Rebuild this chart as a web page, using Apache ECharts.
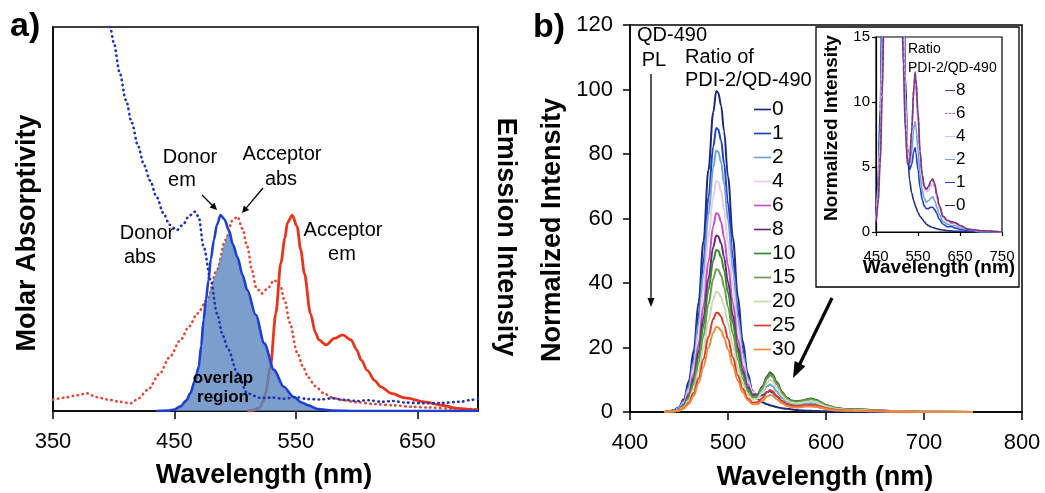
<!DOCTYPE html>
<html><head><meta charset="utf-8">
<script src="https://cdn.jsdelivr.net/npm/echarts@6/dist/echarts.min.js"></script>
<style>html,body{margin:0;padding:0;background:#fff}#c{width:1045px;height:493px}</style>
</head><body><div id="c"></div>
<script>
// ---------- Panel a data ----------
const aTicks = [350, 450, 550, 650];
const donorAbsX = [395,397,400,405,410,415,420,425,430,435,441,446,452,457,462,467,470,474,480,485,490,494,502,510,521,530,540,550,560,570,580,590,600,610,620,630,640,655,670,685,695,700];
const donorAbsY = [104,100,96,88,81,75,69,64,60,56,51.5,48.5,47.1,48.5,50.8,51.9,50.5,42.8,34,25.4,19.5,16.2,9.8,4.6,3.4,3.5,3.2,3.6,3.1,3.0,3.3,2.9,2.6,2.8,2.4,2.6,2.2,2.0,2.1,2.4,2.9,3.2];
const accAbsX = [350,360,370,378,386,395,405,414,420,428,438,446,455,462,469,477,485,492,498,502,506,510,514,517,522,527,532,537,541,545,551,556,560,566,573,580,587,600,615,630,645,660,680,700];
const accAbsY = [2.9,3.5,4.1,4.6,3.6,3.0,2.4,2.0,3.2,5.5,9.8,14,18.5,22,25.4,29,36.7,44.5,49.7,50.6,47.5,42.8,36.5,32.4,30.6,32,34.1,32.8,28.5,23,15.3,11.5,8.8,6.5,4.6,3.5,2.9,2.3,1.8,1.5,1.1,0.9,0.6,0.4];
const donorEmX = [435,445,450,455,460,463,467,470,472,474,476,478,480,482.5,485,488,491,495,498,502,506,510,517,524,532,540,548,555,560,568,580,600,650,700];
const donorEmY = [0,0.1,0.4,1.2,2.8,4.6,8,11.5,17,23.7,29,34,39.5,44.5,48.5,51,50,47,43.5,40,35.5,31.5,25,17.6,10.7,6.3,3.7,2.2,1.5,0.5,0.1,0,0,0];
const accEmX = [510,515,520,523,525,529,533.5,537.6,541,543,547,551,554,557,562,566,569,575,581.6,588.6,595.5,600,603.7,609,614.7,620,628.5,640,656,670,683.6,697,700];
const accEmY = [0,0.2,0.8,2.5,4.6,11.5,25.4,38.5,45,49,51,48,42,35.9,25.4,20.5,18.5,17.2,18.9,19.8,18.5,16,13.3,10.5,8,6.3,4.6,3.4,2.4,1.5,0.7,0.3,0.3];
const overlapX = [450,455,460,463,467,470,472,474,476,478,480,482.5,485,488,491,493,495,498,502,506,510,517,524,532,540,548,555,560,568,580];
const overlapY = [0.4,1.2,2.8,4.6,8,11.5,17,23.7,27.5,29.9,31.9,34.5,36.7,39.9,43.4,45.3,47,43.5,40,35.5,31.5,25,17.6,10.7,6.3,3.7,2.2,1.5,0.5,0.1];

// ---------- Panel b data ----------
const bTicksX = [400, 500, 600, 700, 800];
const bTicksY = [0, 20, 40, 60, 80, 100, 120];
const bWave = [435,440,445,450,455,460,465,470,475,480,485,488,490,493,496,500,505,510,515,520,525,530,535,540,543,545,550,555,560,565,570,575,580,585,590,595,600,610,620,630,640,650,670,700,750];
const bRatios = ['0','1','2','4','6','8','10','15','20','25','30'];
const b0  = [0,0.2,0.6,1.5,4, 9.5,19,34,53,75, 93,99.5,99,95,87, 73,54,36,22,12, 6.5,4.0,3.0,2.4,2.1, 1.9,1.5,1.2,1.0,0.8, 0.6,0.5,0.4,0.35,0.3, 0.25,0.2,0.15,0.1,0.08, 0.06,0.05,0.02,0,0];
const b1  = [0,0.2,0.5,1.3,3.5, 8.4,16.8,30.1,46.9,66.4, 82.3,88.1,87.6,84.1,77.0, 64.6,47.9,32.0,19.8,11.1, 6.4,4.8,5.2,6.2,6.5, 6.1,4.8,3.4,2.5,2.0, 1.8,1.8,1.9,1.9,1.7, 1.4,1.0,0.6,0.4,0.4, 0.3,0.2,0.1,0,0];
const b2  = [0,0.2,0.5,1.2,3.3, 7.7,15.5,27.7,43.2,61.1, 75.8,81.1,80.7,77.4,70.9, 59.6,44.1,29.5,18.3,10.5, 6.3,5.2,6.2,7.9,8.5, 8.1,6.3,4.4,3.2,2.6, 2.3,2.4,2.6,2.7,2.4, 1.9,1.4,0.8,0.6,0.5, 0.5,0.3,0.2,0,0];
const b4  = [0,0.1,0.4,1.1,2.9, 6.8,13.7,24.5,38.2,54.0, 67.0,71.6,71.3,68.4,62.7, 52.7,39.1,26.2,16.4,9.6, 6.2,5.6,7.6,10.4,11.3, 10.9,8.4,5.8,4.2,3.3, 3.1,3.2,3.5,3.7,3.4, 2.6,1.9,1.1,0.8,0.7, 0.6,0.4,0.2,0.1,0];
const b6  = [0,0.1,0.4,0.9,2.5, 5.9,11.8,21.1,32.9,46.5, 57.7,61.7,61.4,58.9,54.0, 45.4,33.7,22.6,14.3,8.5, 5.6,5.5,7.8,10.9,12.0, 11.6,9.0,6.1,4.4,3.5, 3.3,3.4,3.8,4.0,3.6, 2.8,2.1,1.2,0.9,0.7, 0.7,0.5,0.2,0.1,0];
const b8  = [0,0.1,0.3,0.8,2.2, 5.2,10.5,18.7,29.2,41.3, 51.2,54.7,54.5,52.3,47.9, 40.3,29.9,20.1,12.8,7.7, 5.2,5.3,7.8,11.1,12.3, 11.8,9.2,6.2,4.4,3.5, 3.3,3.5,3.9,4.1,3.7, 2.9,2.1,1.2,0.9,0.8, 0.7,0.5,0.2,0.1,0];
const b10 = [0,0.1,0.3,0.8,2.0, 4.8,9.6,17.2,26.8,37.9, 47.0,50.2,50.0,48.0,44.0, 37.0,27.5,18.5,11.8,7.2, 4.9,5.1,7.6,10.9,12.1, 11.6,9.0,6.1,4.4,3.5, 3.3,3.5,3.9,4.2,3.8, 3.0,2.2,1.3,0.9,0.8, 0.7,0.5,0.2,0.1,0];
const b15 = [0,0.1,0.3,0.7,1.8, 4.2,8.5,15.1,23.6,33.4, 41.4,44.3,44.1,42.3,38.8, 32.6,24.2,16.3,10.4,6.4, 4.5,4.8,7.2,10.4,11.5, 11.1,8.6,5.8,4.2,3.3, 3.1,3.3,3.7,3.9,3.5, 2.8,2.0,1.1,0.8,0.7, 0.7,0.4,0.2,0.1,0];
const b20 = [0,0.1,0.2,0.6,1.5, 3.6,7.1,12.8,19.9,28.1, 34.9,37.3,37.1,35.6,32.7, 27.5,20.5,13.8,8.8,5.4, 3.8,4.1,6.2,9.0,10.0, 9.6,7.5,5.1,3.6,2.9, 2.7,2.9,3.2,3.4,3.1, 2.4,1.7,1.0,0.7,0.6, 0.6,0.4,0.2,0.1,0];
const b25 = [0,0.1,0.2,0.5,1.2, 2.9,5.9,10.5,16.4,23.3, 28.8,30.8,30.7,29.5,27.0, 22.7,16.9,11.4,7.2,4.3, 2.9,3.0,4.3,6.1,6.8, 6.5,5.0,3.4,2.4,2.0, 1.8,1.9,2.1,2.2,2.0, 1.6,1.2,0.7,0.5,0.4, 0.4,0.3,0.1,0,0];
const b30 = [0,0.1,0.2,0.4,1.1, 2.5,5.0,9.0,14.0,19.9, 24.6,26.4,26.2,25.2,23.1, 19.4,14.4,9.7,6.1,3.7, 2.4,2.4,3.4,4.8,5.3, 5.1,3.9,2.7,1.9,1.5, 1.4,1.5,1.7,1.7,1.6, 1.3,0.9,0.5,0.4,0.3, 0.3,0.2,0.1,0,0];
const insetRatios = ['8','6','4','2','1','0'];
const insetTicksX = [450, 550, 650, 750];
const insetTicksY = [0, 5, 10, 15];

// ---------- styling ----------
const FONT = '"Liberation Sans", Arial, Helvetica, sans-serif';
const bValues = {'0':b0,'1':b1,'2':b2,'4':b4,'6':b6,'8':b8,'10':b10,'15':b15,'20':b20,'25':b25,'30':b30};
const bColors = {'0':'#1f2a7c','1':'#1f40c8','2':'#6fa3d6','4':'#ebc8ee','6':'#c253c8','8':'#6b2a72',
  '10':'#2e8b2e','15':'#6f9a4f','20':'#c5dcb1','25':'#e0382a','30':'#f08a3c'};
const insetColors = {'8':'#7a3a80','6':'#b455bb','4':'#e6bde9','2':'#6fa3d6','1':'#1f40c8','0':'#252f80'};
const SOLID_ICON = 'path://M0,0H10V1H0Z';
const DASH_ICON = 'path://M0,0H3V1H0ZM4.5,0H7.5V1H4.5ZM9,0H12V1H9Z';

const pairs = (xs, ys) => xs.map((x, i) => [x, ys[i]]);

function txt(x, y, s, size, o) {
  o = o || {};
  const al = o.align || 'center';
  return { type: 'text', x: x, y: y, rotation: o.rot || 0, z: 100,
    style: { text: s, font: (o.bold ? 'bold ' : '') + size + 'px ' + FONT, fill: '#000',
      align: al, verticalAlign: 'middle', textAlign: al, textVerticalAlign: 'middle' } };
}
function arrow(x1, y1, x2, y2, w, hl, hw) {
  const dx = x2 - x1, dy = y2 - y1, L = Math.hypot(dx, dy), ux = dx / L, uy = dy / L;
  const bx = x2 - ux * hl, by = y2 - uy * hl, px = -uy, py = ux;
  return [
    { type: 'line', z: 100, shape: { x1: x1, y1: y1, x2: bx + ux * 1, y2: by + uy * 1 }, style: { stroke: '#000', lineWidth: w } },
    { type: 'polygon', z: 100, shape: { points: [[x2, y2], [bx + px * hw, by + py * hw], [bx - px * hw, by - py * hw]] }, style: { fill: '#000' } }
  ];
}

const axisBase = (extra) => Object.assign({
  type: 'value',
  splitLine: { show: false },
  axisLine: { show: true, onZero: false, lineStyle: { color: '#000', width: 1.5 } },
  axisTick: { show: true, inside: false, length: 7, lineStyle: { color: '#000', width: 1.5 } },
  axisLabel: { color: '#000', fontSize: 22, fontFamily: FONT }
}, extra);

const series = [];
// Panel a
const dotted = { type: [0.5, 4.5], cap: 'round', width: 2.6 };
const lineCommon = { type: 'line', symbol: 'none', showSymbol: false, smooth: 0.3, smoothMonotone: 'x' };
series.push(Object.assign({}, lineCommon, { name: 'Acceptor abs', xAxisIndex: 0, yAxisIndex: 0, data: pairs(accAbsX, accAbsY),
  lineStyle: Object.assign({ color: '#dc4a3a' }, dotted), z: 2 }));
series.push(Object.assign({}, lineCommon, { name: 'Acceptor em', xAxisIndex: 0, yAxisIndex: 1, data: pairs(accEmX, accEmY),
  lineStyle: { color: '#e8341f', width: 2.8 }, z: 3 }));
series.push(Object.assign({}, lineCommon, { name: 'overlap', xAxisIndex: 0, yAxisIndex: 1, data: pairs(overlapX, overlapY),
  lineStyle: { width: 0 }, areaStyle: { color: '#5b86c0', opacity: 0.8 }, z: 4 }));
series.push(Object.assign({}, lineCommon, { name: 'Donor em', xAxisIndex: 0, yAxisIndex: 1, data: pairs(donorEmX, donorEmY),
  lineStyle: { color: '#1f3fd0', width: 2.6 }, z: 5 }));
series.push(Object.assign({}, lineCommon, { name: 'Donor abs', xAxisIndex: 0, yAxisIndex: 0, data: pairs(donorAbsX, donorAbsY),
  lineStyle: Object.assign({ color: '#2233b0' }, dotted), z: 6 }));
// Panel b
bRatios.forEach(r => {
  series.push(Object.assign({}, lineCommon, { name: r, xAxisIndex: 1, yAxisIndex: 2, data: pairs(bWave, bValues[r]),
    smooth: 0.35, lineStyle: { color: bColors[r], width: 2 }, itemStyle: { color: bColors[r] } }));
});
// Inset
insetRatios.slice().reverse().forEach(r => {
  series.push(Object.assign({}, lineCommon, { name: 'i' + r, xAxisIndex: 2, yAxisIndex: 3, data: pairs(bWave, bValues[r]),
    smooth: 0.35, clip: true,
    lineStyle: { color: insetColors[r], width: 1.6, type: r === '6' ? [4, 2] : 'solid' },
    itemStyle: { color: insetColors[r] } }));
});

const graphic = [
  txt(10, 27, 'a)', 34, { bold: true, align: 'left' }),
  txt(533, 28, 'b)', 34, { bold: true, align: 'left' }),
  txt(264, 476, 'Wavelength (nm)', 27, { bold: true }),
  txt(825, 478, 'Wavelength (nm)', 27, { bold: true }),
  txt(28, 233, 'Molar Absorptivity', 27, { bold: true, rot: Math.PI / 2 }),
  txt(505, 237, 'Emission Intensity', 27, { bold: true, rot: -Math.PI / 2 }),
  txt(553, 230, 'Normalized Intensity', 27, { bold: true, rot: Math.PI / 2 }),
  txt(939, 268, 'Wavelength (nm)', 19, { bold: true }),
  txt(832, 128, 'Normalized Intensity', 19, { bold: true, rot: Math.PI / 2 }),
  txt(190, 157, 'Donor', 20), txt(182, 180, 'em', 20),
  txt(282, 154, 'Acceptor', 20), txt(281, 179, 'abs', 20),
  txt(147, 233, 'Donor', 20), txt(140, 257, 'abs', 20),
  txt(343, 230, 'Acceptor', 20), txt(342, 254, 'em', 20),
  txt(223, 378, 'overlap', 17, { bold: true }), txt(223, 397, 'region', 17, { bold: true }),
  txt(637, 35, 'QD-490', 20, { align: 'left' }), txt(654, 60, 'PL', 20),
  txt(685, 57, 'Ratio of', 20, { align: 'left' }), txt(685, 80, 'PDI-2/QD-490', 20, { align: 'left' }),
  txt(908, 49, 'Ratio', 14, { align: 'left' }), txt(908, 68, 'PDI-2/QD-490', 14, { align: 'left' }),
  { type: 'rect', z: 1, shape: { x: 816, y: 27, width: 203, height: 260 }, style: { fill: 'none', stroke: '#000', lineWidth: 1.3 } }
].concat(arrow(202, 195, 217, 210, 1.3, 7, 3.5))
 .concat(arrow(263, 188, 242, 213, 1.3, 7, 3.5))
 .concat(arrow(651, 74, 651, 307, 1.3, 9, 3.5))
 .concat(arrow(832, 298, 793, 378, 3.2, 16, 6));

const option = {
  animation: false,
  backgroundColor: '#fff',
  textStyle: { fontFamily: FONT },
  grid: [
    { left: 53, top: 27, right: 567, bottom: 82, show: true, borderColor: '#000', borderWidth: 1.5, backgroundColor: 'transparent' },
    { left: 630, top: 25, right: 23, bottom: 81, show: true, borderColor: '#000', borderWidth: 1.5, backgroundColor: 'transparent' },
    { left: 876, top: 37, right: 43, bottom: 261, show: true, borderColor: '#000', borderWidth: 1.2, backgroundColor: 'transparent' }
  ],
  xAxis: [
    axisBase({ gridIndex: 0, min: 350, max: 700,
      axisTick: { show: true, length: 8, customValues: aTicks, lineStyle: { color: '#000', width: 1.5 } },
      axisLabel: { color: '#000', fontSize: 22, fontFamily: FONT, margin: 20, customValues: aTicks } }),
    axisBase({ gridIndex: 1, min: 400, max: 800, interval: 100,
      axisTick: { show: true, length: 8, lineStyle: { color: '#000', width: 1.5 } },
      axisLabel: { color: '#000', fontSize: 22, fontFamily: FONT, margin: 20 } }),
    axisBase({ gridIndex: 2, min: 450, max: 750, interval: 100,
      axisLine: { show: true, onZero: false, lineStyle: { color: '#000', width: 1.2 } },
      axisTick: { show: true, length: 4, lineStyle: { color: '#000', width: 1.2 } },
      axisLabel: { color: '#000', fontSize: 15, fontFamily: FONT, margin: 17 } })
  ],
  yAxis: [
    axisBase({ gridIndex: 0, min: 0, max: 100, axisTick: { show: false }, axisLabel: { show: false } }),
    axisBase({ gridIndex: 0, min: 0, max: 100, position: 'right', axisTick: { show: false }, axisLabel: { show: false } }),
    axisBase({ gridIndex: 1, min: 0, max: 120, interval: 20,
      axisTick: { show: true, length: 7, lineStyle: { color: '#000', width: 1.5 } },
      axisLabel: { color: '#000', fontSize: 22, fontFamily: FONT, margin: 17 } }),
    axisBase({ gridIndex: 2, min: 0, max: 15, interval: 5,
      axisLine: { show: true, onZero: false, lineStyle: { color: '#000', width: 1.2 } },
      axisTick: { show: true, length: 4, lineStyle: { color: '#000', width: 1.2 } },
      axisLabel: { color: '#000', fontSize: 15, fontFamily: FONT, margin: 6 } })
  ],
  legend: [
    { data: bRatios.map(r => ({ name: r, icon: SOLID_ICON })), orient: 'vertical', left: 749, top: 94,
      itemWidth: 17, itemHeight: 2.5, itemGap: 3,
      selectedMode: false, textStyle: { color: '#000', fontSize: 21, lineHeight: 21, fontFamily: FONT, padding: [0, 0, 0, -4] } },
    { data: insetRatios.map(r => ({ name: 'i' + r, icon: r === '6' ? DASH_ICON : SOLID_ICON })), orient: 'vertical',
      left: 940, top: 77, itemWidth: 10, itemHeight: 2.2, itemGap: 6,
      selectedMode: false, formatter: n => n.slice(1),
      textStyle: { color: '#000', fontSize: 17, lineHeight: 17, fontFamily: FONT, padding: [0, 0, 0, -4] } }
  ],
  series: series,
  graphic: graphic
};
const chart = echarts.init(document.getElementById('c'), null, { renderer: 'canvas' });
chart.setOption(option);
</script>
</body></html>
